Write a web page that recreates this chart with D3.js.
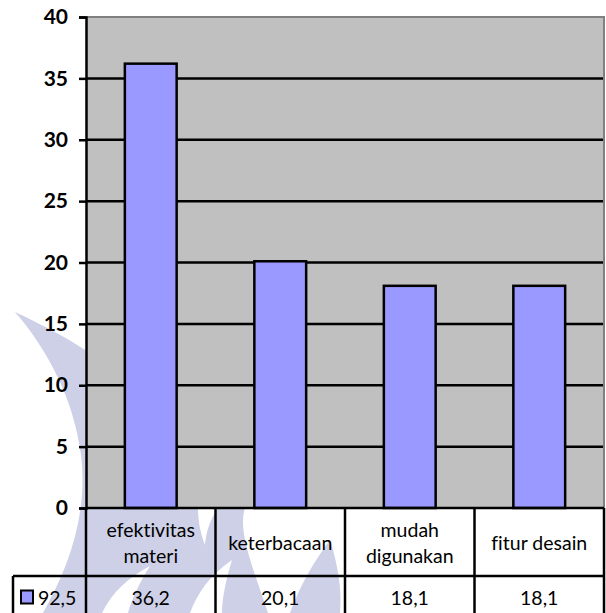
<!DOCTYPE html>
<html>
<head>
<meta charset="utf-8">
<script src="https://cdn.jsdelivr.net/npm/d3@7"></script>
<style>
  html, body { margin: 0; padding: 0; background: #fff; }
  svg { display: block; }
  text { font-variant-ligatures: none; }
</style>
</head>
<body>
<svg id="chart" width="606" height="613"></svg>
<script>
// Survey results per aspect (percent)
const categories = [["efektivitas", "materi"], ["keterbacaan"], ["mudah", "digunakan"], ["fitur desain"]];
const values = [36.2, 20.1, 18.1, 18.1];
const valueLabels = ["36,2", "20,1", "18,1", "18,1"];
const seriesName = "92,5";
const yTicks = [0, 5, 10, 15, 20, 25, 30, 35, 40];

const svg = d3.select("#chart");
const plot = { left: 86, right: 604, top: 17, bottom: 508 };
const table = { left: 13, row1: 508, row2: 576, bottom: 613 };
const font = "Lato, 'Open Sans', sans-serif";

// Background watermark swirl (faint lavender)
const wm = svg.append("g").attr("fill", "#cdd0e6");
wm.append("path").attr("d",
  "M15,312 C45,326 75,342 100,360 L100,613 L43,613 C70,565 88,512 81,455 C74,400 48,350 15,312 Z");
wm.append("path").attr("d",
  "M86,508 L245,508 C238,530 250,560 268,613 L86,613 Z");
wm.append("path").attr("d",
  "M290,613 C300,585 315,560 330,540 C338,565 342,590 340,613 Z");
// white stripes cutting through the swirl
const wmw = svg.append("g").attr("fill", "#ffffff");
wmw.append("path").attr("d",
  "M102,613 C112,592 128,578 150,566 C140,582 132,598 128,613 Z");
wmw.append("path").attr("d",
  "M190,613 C198,592 210,575 232,560 C226,580 222,598 222,613 Z");
wmw.append("path").attr("d",
  "M198,508 L218,508 C210,520 206,532 205,545 C200,532 198,520 198,508 Z");

const x = d3.scaleBand()
  .domain(d3.range(categories.length))
  .range([plot.left, plot.right])
  .padding(0);

const y = d3.scaleLinear()
  .domain([0, 40])
  .range([plot.bottom, plot.top]);

// Plot area
svg.append("rect")
  .attr("x", plot.left).attr("y", plot.top)
  .attr("width", plot.right - plot.left).attr("height", plot.bottom - plot.top)
  .attr("fill", "#c0c0c0");

// Horizontal gridlines
svg.append("g")
  .selectAll("line")
  .data(yTicks.filter(t => t > 0 && t < 40))
  .join("line")
  .attr("x1", plot.left).attr("x2", plot.right)
  .attr("y1", d => y(d)).attr("y2", d => y(d))
  .attr("stroke", "#000").attr("stroke-width", 2.5);

// Plot border (top and right in gray)
svg.append("path")
  .attr("d", `M${plot.left},${plot.top}H${plot.right}V${plot.bottom}`)
  .attr("fill", "none").attr("stroke", "#808080").attr("stroke-width", 2);

// Bars
const barW = x.bandwidth() * 0.4;
svg.append("g")
  .selectAll("rect")
  .data(values)
  .join("rect")
  .attr("x", (d, i) => x(i) + (x.bandwidth() - barW) / 2)
  .attr("y", d => y(d))
  .attr("width", barW)
  .attr("height", d => y(0) - y(d))
  .attr("fill", "#9999ff")
  .attr("stroke", "#000")
  .attr("stroke-width", 2.5);

// Y axis
const yAxis = svg.append("g")
  .attr("transform", `translate(${plot.left},0)`)
  .call(d3.axisLeft(y).tickValues(yTicks).tickSize(7).tickPadding(11).tickFormat(d3.format("d")));
yAxis.select(".domain").attr("stroke", "#000").attr("stroke-width", 2.5);
yAxis.selectAll(".tick line").attr("stroke", "#000").attr("stroke-width", 2.5);
yAxis.selectAll(".tick text")
  .attr("font-family", font).attr("font-size", 21).attr("font-weight", "bold").attr("fill", "#000");

// Data table grid
const tg = svg.append("g").attr("stroke", "#000").attr("stroke-width", 2.5).attr("fill", "none");
tg.append("line").attr("x1", plot.left).attr("x2", plot.right).attr("y1", table.row1).attr("y2", table.row1);
tg.append("line").attr("x1", table.left).attr("x2", plot.right).attr("y1", table.row2).attr("y2", table.row2);
tg.append("line").attr("x1", table.left).attr("x2", table.left).attr("y1", table.row2).attr("y2", table.bottom);
tg.selectAll("line.col")
  .data(d3.range(categories.length + 1))
  .join("line").attr("class", "col")
  .attr("x1", i => i < categories.length ? x(i) : plot.right)
  .attr("x2", i => i < categories.length ? x(i) : plot.right)
  .attr("y1", table.row1).attr("y2", table.bottom);

// Category labels
const lineH = 26;
const rowMid1 = (table.row1 + table.row2) / 2;
svg.append("g")
  .selectAll("text")
  .data(categories)
  .join("text")
  .attr("x", (d, i) => x(i) + x.bandwidth() / 2)
  .attr("y", d => rowMid1 - (d.length - 1) * lineH / 2)
  .attr("text-anchor", "middle")
  .attr("dominant-baseline", "central")
  .attr("font-family", font).attr("font-size", 19.5).attr("fill", "#000")
  .selectAll("tspan")
  .data(d => d)
  .join("tspan")
  .attr("x", function () { return this.parentNode.getAttribute("x"); })
  .attr("dy", (d, i) => i === 0 ? 0 : lineH)
  .text(d => d);

// Value row
const rowMid2 = 597;
svg.append("g")
  .selectAll("text")
  .data(valueLabels)
  .join("text")
  .attr("x", (d, i) => x(i) + x.bandwidth() / 2)
  .attr("y", rowMid2)
  .attr("text-anchor", "middle")
  .attr("dominant-baseline", "central")
  .attr("font-family", font).attr("font-size", 19.5).attr("fill", "#000")
  .text(d => d);

// Legend key in the table
svg.append("rect")
  .attr("x", 21).attr("y", rowMid2 - 6.5)
  .attr("width", 12).attr("height", 13)
  .attr("fill", "#9999ff").attr("stroke", "#000").attr("stroke-width", 2);
svg.append("text")
  .attr("x", 38).attr("y", rowMid2)
  .attr("dominant-baseline", "central")
  .attr("font-family", font).attr("font-size", 19.5).attr("fill", "#000")
  .text(seriesName);
</script>
</body>
</html>
